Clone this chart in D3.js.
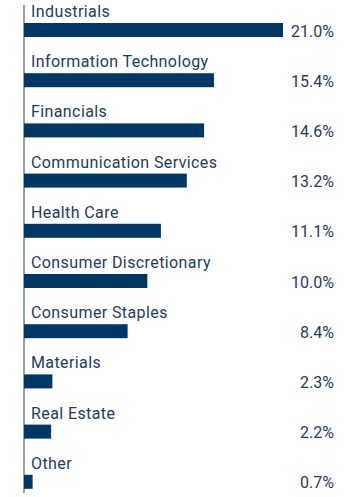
<!DOCTYPE html>
<html><head><meta charset="utf-8">
<script src="https://cdn.jsdelivr.net/npm/d3@7"></script>
<style>body{margin:0;background:#fff}svg{display:block}text{font-family:Roboto,"Noto Sans",sans-serif}</style>
</head><body><svg id="c" width="360" height="497"></svg>
<script>
const categories = ["Industrials","Information Technology","Financials","Communication Services","Health Care","Consumer Discretionary","Consumer Staples","Materials","Real Estate","Other"];
const values = [21.0,15.4,14.6,13.2,11.1,10.0,8.4,2.3,2.2,0.7];
const labels = ["21.0%","15.4%","14.6%","13.2%","11.1%","10.0%","8.4%","2.3%","2.2%","0.7%"];

const svg = d3.select("#c");
const x0 = 24;
const x = d3.scaleLinear().domain([0,21.0]).range([x0, 283]);
const y = d3.scaleBand().domain(categories).range([5, 507]).paddingInner(0);
const barOff = 18, barH = 14;

svg.append("line").attr("x1",x0).attr("x2",x0).attr("y1",5).attr("y2",493)
  .attr("stroke","#6e8398").attr("stroke-width",1.5);

const g = svg.selectAll("g.row").data(categories).enter().append("g");
g.append("rect").attr("x",x0).attr("y",d=>y(d)+barOff)
  .attr("width",(d,i)=>x(values[i])-x0).attr("height",barH).attr("fill","#003865");
g.append("text").attr("x",31).attr("y",d=>y(d)+barOff-6).text(d=>d)
  .attr("font-size",16).attr("letter-spacing","0.4px").attr("fill","#1d3c5e");
g.append("text").attr("x",334).attr("y",d=>y(d)+barOff+barH/2+1).attr("dy","0.35em")
  .attr("text-anchor","end").text((d,i)=>labels[i]).attr("font-size",16).attr("fill","#1d3c5e");
</script></body></html>
